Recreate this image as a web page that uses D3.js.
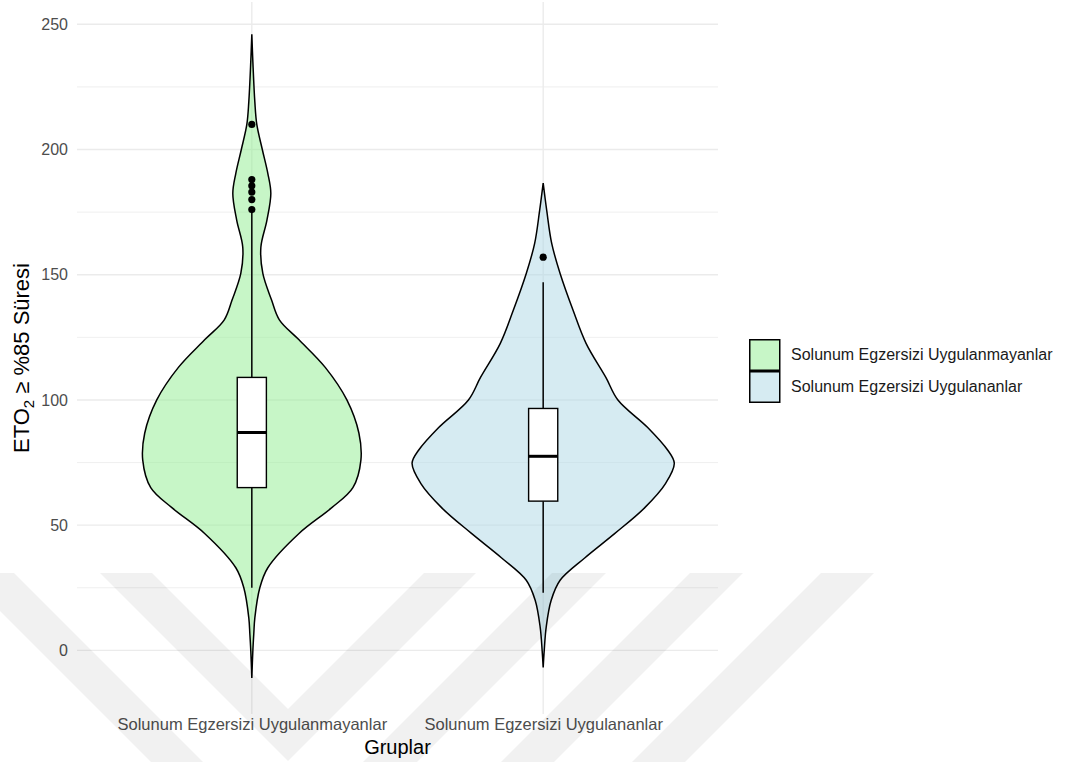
<!DOCTYPE html>
<html>
<head>
<meta charset="utf-8">
<script src="https://cdn.jsdelivr.net/npm/d3@7"></script>
<style>
body{margin:0;background:#fff;}
text{font-family:"Liberation Sans", Arial, sans-serif;}
</style>
</head>
<body>
<div id="chart"></div>
<script>

const groups = ["Solunum Egzersizi Uygulanmayanlar", "Solunum Egzersizi Uygulananlar"];
const fills = ["#90ee90", "#add8e6"];

// violin outline: [value, relative density]
const density1 = [
    [-11, 0], [0, 0.008], [6.6, 0.015], [13, 0.023], [25, 0.061], [33, 0.122],
    [46.7, 0.36], [57, 0.61], [65, 0.771], [76, 0.832], [86.7, 0.817], [100, 0.725],
    [113, 0.56], [124, 0.36], [132, 0.21], [140, 0.15], [150.5, 0.084], [161, 0.069],
    [171.7, 0.115], [182.5, 0.145], [190.5, 0.122], [200, 0.08], [210, 0.038],
    [219, 0.023], [235, 0.008], [246, 0]
];
const density2 = [
    [-6.8, 0], [0, 0.008], [9.3, 0.023], [20, 0.061], [28, 0.129], [37, 0.319],
    [46.7, 0.547], [57, 0.775], [66.7, 0.934], [74.7, 1], [80, 0.949], [89, 0.797],
    [100, 0.57], [109, 0.478], [122.6, 0.327], [135.8, 0.228], [150.5, 0.129],
    [162.5, 0.065], [175.7, 0.027], [186.6, 0]
];

// box stats: lower whisker, q1, median, q3, upper whisker
const box1 = [25, 65, 87, 109, 175];
const box2 = [23, 59.6, 77.5, 96.6, 147];
const outliers1 = [176, 180, 183, 185.5, 188, 210];
const outliers2 = [157];

const yTicks = [0, 50, 100, 150, 200, 250];
const yMinor = [25, 75, 125, 175, 225];

const series = [
    {name: groups[0], fill: fills[0], dens: density1, box: box1, out: outliers1},
    {name: groups[1], fill: fills[1], dens: density2, box: box2, out: outliers2}
];

const width = 1068, height = 762;
let margin = {top: 2, right: 350, bottom: 48, left: 77};
const pw = width - margin.left - margin.right;
const ph = height - margin.top - margin.bottom;

const svg = d3.select('#chart')
    .append('svg')
    .attr('width', width)
    .attr('height', height);

const g = svg.append('g')
    .attr('transform', `translate(${margin.left},${margin.top})`);

var x = d3.scalePoint()
    .domain(groups)
    .range([0, pw])
    .padding(0.6);

var y = d3.scaleLinear()
    .domain([-25.4, 258.9])
    .range([ph, 0]);

var w = d3.scaleLinear()
    .domain([0, 1])
    .range([0, x.step() * 0.45]);

const grid = '#ebebeb';

// grid
g.selectAll('.minor')
    .data(yMinor)
    .enter().append('line')
    .attr('x1', 0).attr('x2', pw)
    .attr('y1', d => y(d)).attr('y2', d => y(d))
    .attr('stroke', grid).attr('stroke-width', 0.8);

g.selectAll('.major')
    .data(yTicks)
    .enter().append('line')
    .attr('x1', 0).attr('x2', pw)
    .attr('y1', d => y(d)).attr('y2', d => y(d))
    .attr('stroke', grid).attr('stroke-width', 1.4);

g.selectAll('.vgrid')
    .data(groups)
    .enter().append('line')
    .attr('x1', d => x(d)).attr('x2', d => x(d))
    .attr('y1', 0).attr('y2', ph)
    .attr('stroke', grid).attr('stroke-width', 1.4);

// axes
g.append('g')
    .call(d3.axisLeft(y).tickValues(yTicks).tickSize(0).tickPadding(9))
    .call(g => g.select('.domain').remove())
    .selectAll('text')
    .style('font-size', '16px')
    .attr('fill', '#4d4d4d')
    .attr('font-family', '"Liberation Sans", Arial, sans-serif');

g.append('g')
    .attr('transform', `translate(0,${ph})`)
    .call(d3.axisBottom(x).tickSize(0).tickPadding(4))
    .call(g => g.select('.domain').remove())
    .selectAll('text')
    .style('font-size', '16.5px')
    .attr('fill', '#4d4d4d')
    .attr('font-family', '"Liberation Sans", Arial, sans-serif');

// violins
series.forEach(s => {
    const cx = x(s.name);
    const area = d3.area()
        .y(d => y(d[0]))
        .x0(d => cx - w(d[1]))
        .x1(d => cx + w(d[1]))
        .curve(d3.curveCatmullRom.alpha(0.5));

    g.append('path')
        .datum(s.dens)
        .attr('d', area)
        .attr('fill', s.fill)
        .attr('fill-opacity', 0.5)
        .attr('stroke', '#000')
        .attr('stroke-width', 1.5);

    const bw = x.step() * 0.05;
    const b = s.box;
    g.append('line')
        .attr('x1', cx).attr('x2', cx)
        .attr('y1', y(b[0])).attr('y2', y(b[1]))
        .attr('stroke', '#000').attr('stroke-width', 1.5);
    g.append('line')
        .attr('x1', cx).attr('x2', cx)
        .attr('y1', y(b[3])).attr('y2', y(b[4]))
        .attr('stroke', '#000').attr('stroke-width', 1.5);
    g.append('rect')
        .attr('x', cx - bw).attr('width', bw * 2)
        .attr('y', y(b[3])).attr('height', y(b[1]) - y(b[3]))
        .attr('fill', '#fff')
        .attr('stroke', '#000').attr('stroke-width', 1.4);
    g.append('line')
        .attr('x1', cx - bw).attr('x2', cx + bw)
        .attr('y1', y(b[2])).attr('y2', y(b[2]))
        .attr('stroke', '#000').attr('stroke-width', 3);

    g.selectAll(null)
        .data(s.out)
        .enter().append('circle')
        .attr('cx', cx)
        .attr('cy', d => y(d))
        .attr('r', 3.6)
        .attr('fill', '#000');
});

// axis titles
svg.append('text')
    .attr('x', margin.left + pw / 2)
    .attr('y', 754)
    .attr('text-anchor', 'middle')
    .style('font-size', '20px')
    .attr('fill', '#000')
    .text('Gruplar');

const yt = svg.append('text')
    .attr('transform', `translate(29,${margin.top + ph / 2}) rotate(-90)`)
    .attr('text-anchor', 'middle')
    .style('font-size', '22px')
    .attr('fill', '#000');
yt.append('tspan').text('ETO');
yt.append('tspan').text('2').attr('font-size', '15px').attr('dy', 5);
yt.append('tspan').text(' ≥ %85 Süresi').attr('dy', -5);

// legend
const leg = svg.append('g').attr('transform', 'translate(749,339)');
groups.forEach((name, i) => {
    leg.append('rect')
        .attr('x', 0.75).attr('y', i * 32 + 0.75)
        .attr('width', 30).attr('height', 30.5)
        .attr('fill', fills[i]).attr('fill-opacity', 0.5)
        .attr('stroke', '#000').attr('stroke-width', 1.5);
    leg.append('text')
        .attr('x', 42).attr('y', i * 32 + 21)
        .style('font-size', '16px')
        .attr('fill', '#1a1a1a')
        .text(name);
});

// faint watermark bands lying over the picture
const marks = [
    [[100,573],[288,761],[476,573],[424,573],[288,709],[152,573]],
    [[-38,573],[14,573],[203,762],[151,762]],
    [[552,573],[606,573],[417,762],[363,762]],
    [[690,573],[743,573],[554,762],[501,762]],
    [[821,573],[874,573],[685,762],[632,762]]
];
svg.append('g')
    .selectAll('path')
    .data(marks)
    .enter().append('path')
    .attr('d', d => 'M' + d.join('L') + 'Z')
    .attr('fill', '#000')
    .attr('fill-opacity', 0.055);

</script>
</body>
</html>
